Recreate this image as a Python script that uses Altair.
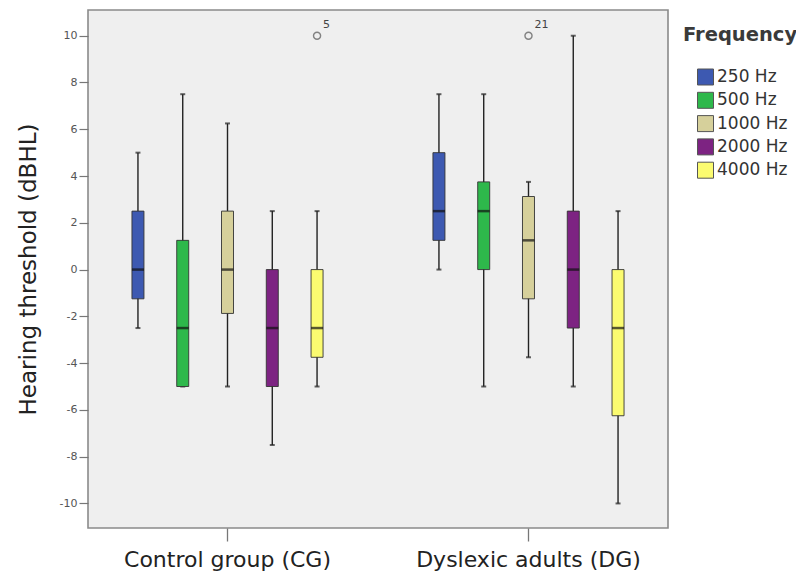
import altair as alt
import pandas as pd

groups = ["Control group (CG)"] * 5 + ["Dyslexic adults (DG)"] * 5
freqs = ["250 Hz", "500 Hz", "1000 Hz", "2000 Hz", "4000 Hz"] * 2
w_low = [-2.5, -5, -5, -7.5, -5, 0, -5, -3.75, -5, -10]
q1 = [-1.25, -5, -1.875, -5, -3.75, 1.25, 0, -1.25, -2.5, -6.25]
median = [0, -2.5, 0, -2.5, -2.5, 2.5, 2.5, 1.25, 0, -2.5]
q3 = [2.5, 1.25, 2.5, 0, 0, 5, 3.75, 3.125, 2.5, 0]
w_high = [5, 7.5, 6.25, 2.5, 2.5, 7.5, 7.5, 3.75, 10, 2.5]

out_group = ["Control group (CG)", "Dyslexic adults (DG)"]
out_freq = ["4000 Hz", "1000 Hz"]
out_value = [10, 10]
out_label = ["5", "21"]

freq_order = ["250 Hz", "500 Hz", "1000 Hz", "2000 Hz", "4000 Hz"]
group_order = ["Control group (CG)", "Dyslexic adults (DG)"]
colors = ["#3d59b1", "#2eb84b", "#d6d09b", "#7d2382", "#fbfb70"]

df = pd.DataFrame({"group": groups, "freq": freqs, "low": w_low, "q1": q1,
                   "median": median, "q3": q3, "high": w_high})
dfo = pd.DataFrame({"group": out_group, "freq": out_freq, "value": out_value,
                    "label": out_label})

FONT = "DejaVu Sans"

x_enc = alt.X("group:N", sort=group_order,
              scale=alt.Scale(paddingInner=0.1, paddingOuter=0.0135),
              axis=alt.Axis(title=None, labelAngle=0, labelFontSize=22,
                            labelColor="#222", labelFont=FONT, tickSize=13,
                            tickColor="#777", tickWidth=1.3, domain=False,
                            labelPadding=8, labelLimit=0))
xo_enc = alt.XOffset("freq:N", sort=freq_order,
                     scale=alt.Scale(paddingInner=0, paddingOuter=0.525))
y_scale = alt.Scale(domain=[-11.05, 11.1], nice=False, zero=False)

base = alt.Chart(df)

whisk = base.mark_rule(color="#222", strokeWidth=1.4).encode(
    x=x_enc, xOffset=xo_enc,
    y=alt.Y("low:Q", scale=y_scale,
            axis=alt.Axis(title="Hearing threshold (dBHL)", values=list(range(-10, 11, 2)),
                          labelExpr="replace(datum.label, '\u2212', '-')",
                          labelFontSize=11, labelColor="#555", labelFont=FONT,
                          tickSize=9, tickColor="#777", tickWidth=1.2,
                          domain=False, grid=False, labelPadding=2,
                          titleFontSize=23, titleFont=FONT, titleColor="#222",
                          titleFontWeight="normal", titleX=-53,
                          titleBaseline="alphabetic")),
    y2="high:Q",
)

caps_lo = base.mark_tick(orient="horizontal", size=5, thickness=2, color="#222").encode(
    x=x_enc, xOffset=xo_enc, y=alt.Y("low:Q", scale=y_scale))
caps_hi = base.mark_tick(orient="horizontal", size=5, thickness=2, color="#222").encode(
    x=x_enc, xOffset=xo_enc, y=alt.Y("high:Q", scale=y_scale))

boxes = base.mark_bar(width=12, stroke="#333", strokeWidth=0.9).encode(
    x=x_enc, xOffset=xo_enc,
    y=alt.Y("q1:Q", scale=y_scale), y2="q3:Q",
    color=alt.Color("freq:N", sort=freq_order,
                    scale=alt.Scale(domain=freq_order, range=colors),
                    legend=alt.Legend(title="Frequency", orient="none",
                                      legendX=595, legendY=16, padding=0,
                                      titleFontSize=19.5, titleFont=FONT,
                                      titleFontWeight="bold", titleColor="#3a3a3a",
                                      titlePadding=23,
                                      labelFontSize=17, labelFont=FONT,
                                      labelColor="#333", labelOffset=3,
                                      symbolType="square", symbolSize=256,
                                      symbolStrokeColor="#555",
                                      symbolStrokeWidth=1, symbolOffset=14,
                                      rowPadding=2.3)),
)

medians = base.mark_tick(orient="horizontal", size=12, thickness=2.5, color="#111").encode(
    x=x_enc, xOffset=xo_enc, y=alt.Y("median:Q", scale=y_scale))

obase = alt.Chart(dfo)
outl = obase.mark_point(shape="circle", filled=False, size=50, color="#555",
                        strokeWidth=1.4).encode(
    x=x_enc, xOffset=xo_enc, y=alt.Y("value:Q", scale=y_scale))
outt = obase.mark_text(align="left", baseline="middle", dx=6, dy=-11,
                       fontSize=11, font=FONT, color="#444").encode(
    x=x_enc, xOffset=xo_enc, y=alt.Y("value:Q", scale=y_scale), text="label:N")

chart = alt.layer(whisk, caps_lo, caps_hi, boxes, medians, outl, outt).properties(
    width=580, height=518,
    autosize=alt.AutoSizeParams(type="none"),
    padding={"left": 80, "top": 2, "right": 128, "bottom": 45},
    background="white",
).configure_view(fill="#efefef", stroke="#8a8a8a", strokeWidth=1.6)

chart.save("out.html", embed_options={"renderer": "svg", "actions": False})
